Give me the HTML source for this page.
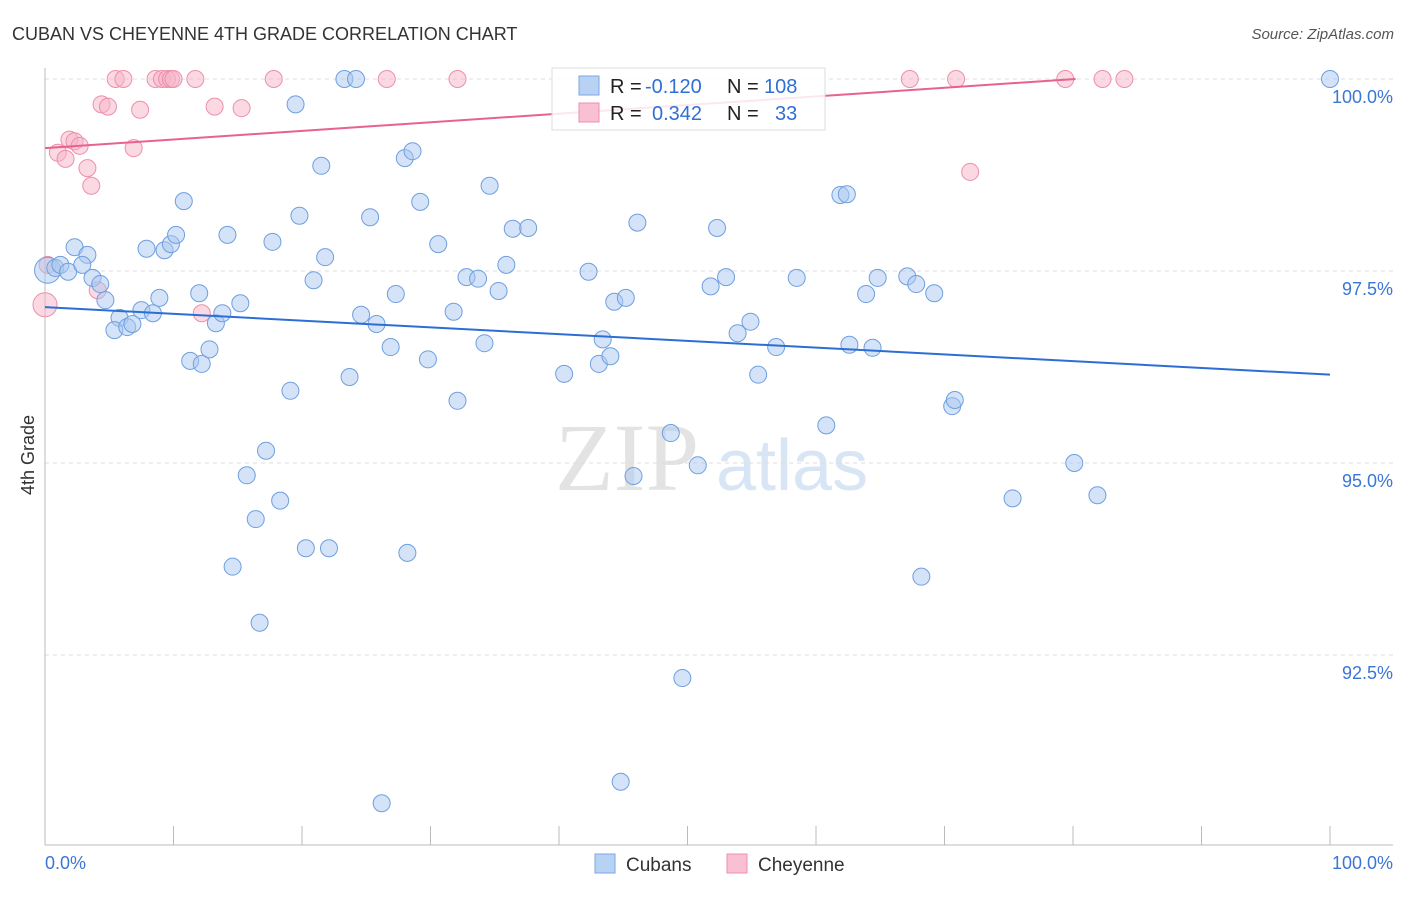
<!DOCTYPE html>
<html><head><meta charset="utf-8"><style>
body{margin:0;background:#fff;font-family:"Liberation Sans",sans-serif;}
</style></head><body>
<svg id="c" width="1406" height="892" xmlns="http://www.w3.org/2000/svg" style="font-family:'Liberation Sans',sans-serif">
<text x="12" y="40" font-size="18" fill="#333">CUBAN VS CHEYENNE 4TH GRADE CORRELATION CHART</text>
<text x="1394" y="39" font-size="15" fill="#555" text-anchor="end" font-style="italic">Source: ZipAtlas.com</text>
<text x="34" y="455" font-size="18" fill="#333" text-anchor="middle" transform="rotate(-90 34 455)">4th Grade</text>
<g><text x="555" y="490" font-size="96" fill="#e3e3e3" font-family="Liberation Serif,serif">ZIP</text><text x="716" y="490" font-size="72" fill="#d8e5f5">atlas</text></g>
<g id="grid"></g><g id="axes"></g><g id="marks"></g>
<g>
<rect x="552" y="68" width="273" height="62" fill="#fff" fill-opacity="0.85" stroke="#ddd"/>
<rect x="579" y="76" width="20" height="19" fill="#b8d2f3" stroke="#7aa8e6"/>
<rect x="579" y="103" width="20" height="19" fill="#f8c0d2" stroke="#ee90ad"/>
<text x="610" y="93" font-size="20" fill="#222">R =</text>
<text x="645" y="93" font-size="20" fill="#2f6fd6">-0.120</text>
<text x="727" y="93" font-size="20" fill="#222">N =</text>
<text x="764" y="93" font-size="20" fill="#2f6fd6">108</text>
<text x="610" y="120" font-size="20" fill="#222">R =</text>
<text x="652" y="120" font-size="20" fill="#2f6fd6">0.342</text>
<text x="727" y="120" font-size="20" fill="#222">N =</text>
<text x="775" y="120" font-size="20" fill="#2f6fd6">33</text>
</g>
<g>
<rect x="595" y="854" width="20" height="19" fill="#b8d2f3" stroke="#7aa8e6"/>
<text x="626" y="871" font-size="19" fill="#333">Cubans</text>
<rect x="727" y="854" width="20" height="19" fill="#f8c0d2" stroke="#ee90ad"/>
<text x="758" y="871" font-size="19" fill="#333">Cheyenne</text>
</g>
</svg>
<script>
const blueX=[0.2,0.8,1.2,1.8,2.3,3.3,2.9,3.7,4.3,4.7,5.8,5.4,6.4,6.8,7.5,8.4,8.9,7.9,9.3,9.8,10.2,10.8,11.3,12.2,12.0,12.8,13.3,13.8,14.2,15.2,15.7,16.4,14.6,16.7,17.2,17.7,18.3,19.1,19.5,19.8,20.3,20.9,21.5,21.8,22.1,23.3,24.2,23.7,24.6,25.3,25.8,26.2,26.9,27.3,28.0,28.2,28.6,29.2,29.8,30.6,31.8,32.1,32.8,33.7,34.2,34.6,35.3,35.9,36.4,37.6,40.4,42.3,43.1,43.4,44.0,44.3,45.2,44.8,45.8,46.1,48.7,49.6,50.8,51.8,52.3,53.0,53.9,54.9,55.5,56.9,58.5,60.8,61.9,62.4,62.6,63.9,64.4,64.8,67.1,67.8,68.2,69.2,70.6,70.8,75.3,80.1,81.9,100];
const blueY=[97.51,97.54,97.58,97.49,97.81,97.71,97.58,97.41,97.33,97.12,96.89,96.73,96.77,96.81,96.99,96.95,97.15,97.79,97.77,97.85,97.97,98.41,96.33,96.29,97.21,96.48,96.82,96.95,97.97,97.08,94.84,94.27,93.65,92.92,95.16,97.88,94.51,95.94,99.67,98.22,93.89,97.38,98.87,97.68,93.89,100,100,96.12,96.93,98.20,96.81,90.57,96.51,97.20,98.97,93.83,99.06,98.40,96.35,97.85,96.97,95.81,97.42,97.40,96.56,98.61,97.24,97.58,98.05,98.06,96.16,97.49,96.29,96.61,96.39,97.10,97.15,90.85,94.83,98.13,95.39,92.20,94.97,97.30,98.06,97.42,96.69,96.84,96.15,96.51,97.41,95.49,98.49,98.50,96.54,97.20,96.50,97.41,97.43,97.33,93.52,97.21,95.74,95.82,94.54,95.00,94.58,100];
const pinkX=[0,0.2,1.0,1.6,1.9,2.3,2.7,3.3,3.6,4.1,4.4,4.9,5.5,6.1,7.4,6.9,8.6,9.1,9.5,9.8,10.0,11.7,12.2,13.2,15.3,17.8,26.6,32.1,67.3,70.9,72.0,79.4,82.3,84.0];
const pinkY=[97.06,97.58,99.04,98.96,99.21,99.19,99.13,98.84,98.61,97.25,99.67,99.64,100,100,99.60,99.10,100,100,100,100,100,100,96.95,99.64,99.62,100,100,100,100,100,98.79,100,100,100];
const blueTrend=[[0,97.03],[100,96.15]];
const pinkTrend=[[0,99.10],[80.2,100]];
const yTicks=[100,97.5,95,92.5];
const yTickLabels=["100.0%","97.5%","95.0%","92.5%"];
const X0=45,X1=1330,YT=79,PX_PER=76.8;
const sx=v=>X0+(X1-X0)*v/100;
const sy=v=>YT+(100-v)*PX_PER;
const NS="http://www.w3.org/2000/svg";
function mk(tag,attrs,parent){const e=document.createElementNS(NS,tag);for(const k in attrs)e.setAttribute(k,attrs[k]);parent.appendChild(e);return e;}
const grid=document.getElementById('grid'),axes=document.getElementById('axes'),marks=document.getElementById('marks');
yTicks.forEach((t,i)=>{
 const g=mk('line',{x1:45,x2:1393,y1:sy(t),y2:sy(t),stroke:'#ddd','stroke-dasharray':'4,4'},grid);
 
 
 const l=mk('text',{x:1393,y:sy(t)+24,'font-size':18,fill:'#3a76d6','text-anchor':'end'},axes);
 l.textContent=yTickLabels[i];
 
 
});
const xa=mk('line',{x1:45,x2:1393,y1:845,y2:845,stroke:'#bbb'},axes);


const ya=mk('line',{x1:45,x2:45,y1:68,y2:845,stroke:'#bbb'},axes);


for(let i=0;i<=10;i++){const t=mk('line',{x1:sx(i*10),x2:sx(i*10),y1:826,y2:845,stroke:'#bbb'},axes);
 
 }
const xl0=mk('text',{x:45,y:869,'font-size':18,fill:'#3a76d6'},axes);xl0.textContent='0.0%';


const xl1=mk('text',{x:1393,y:869,'font-size':18,fill:'#3a76d6','text-anchor':'end'},axes);xl1.textContent='100.0%';


pinkX.forEach((x,i)=>{const c=mk('circle',{cx:sx(x),cy:sy(pinkY[i]),r:i==0?12:8.5,fill:'#f5b3c8','fill-opacity':0.5,stroke:'#ee8fac','stroke-width':1},marks);
 
 });
blueX.forEach((x,i)=>{const c=mk('circle',{cx:sx(x),cy:sy(blueY[i]),r:i==0?13:8.5,fill:'#a9c8ef','fill-opacity':0.5,stroke:'#6e9fe0','stroke-width':1},marks);
 
 });
const bt=mk('line',{x1:sx(blueTrend[0][0]),y1:sy(blueTrend[0][1]),x2:sx(blueTrend[1][0]),y2:sy(blueTrend[1][1]),stroke:'#2b6fd4','stroke-width':2},marks);


const pt=mk('line',{x1:sx(pinkTrend[0][0]),y1:sy(pinkTrend[0][1]),x2:sx(pinkTrend[1][0]),y2:sy(pinkTrend[1][1]),stroke:'#e8628e','stroke-width':2},marks);


</script>
</body></html>
